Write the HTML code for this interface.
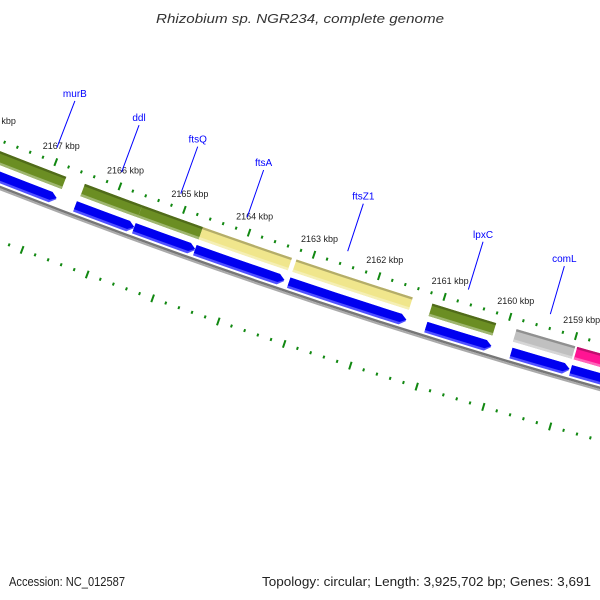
<!DOCTYPE html>
<html><head><meta charset="utf-8"><style>
html,body{margin:0;padding:0;background:#fff;}
svg{display:block;}
text{font-family:"Liberation Sans","DejaVu Sans",sans-serif;}
</style></head><body>
<svg id="map" width="600" height="600" viewBox="0 0 600 600" xmlns="http://www.w3.org/2000/svg">
<rect width="600" height="600" fill="#fff"/>
<text x="300" y="23" text-anchor="middle" font-size="13" font-style="italic" fill="#333" textLength="288" lengthAdjust="spacingAndGlyphs">Rhizobium sp. NGR234, complete genome</text>
<g id="plot"></g>
<text x="9" y="586" font-size="13" fill="#222" textLength="116" lengthAdjust="spacingAndGlyphs">Accession: NC_012587</text>
<text x="591" y="586" font-size="13" fill="#222" text-anchor="end" textLength="329" lengthAdjust="spacingAndGlyphs">Topology: circular; Length: 3,925,702 bp; Genes: 3,691</text>
</svg>
<script>
// ---- data ----
var featStarts = [2168.5, 2166.51, 2165.60, 2164.66, 2163.22, 2161.13, 2159.84, 2158.94];
var featEnds   = [2166.80, 2165.60, 2164.66, 2163.29, 2161.43, 2160.14, 2158.96, 2157.5];
var cogStarts  = [2168.5, 2166.49, 2165.60, 2164.66, 2163.22, 2161.14, 2159.86, 2158.94];
var cogEnds    = [2166.78, 2165.60, 2164.66, 2163.29, 2161.44, 2160.17, 2158.97, 2157.5];
var cogColors  = ["#6b8e23","#6b8e23","#6b8e23","#f0e68c","#f0e68c","#6b8e23","#c0c0c0","#ff1493"];
var geneNames  = ["murB","ddl","ftsQ","ftsA","ftsZ1","lpxC","comL"];
var geneLabelKbp = [2167.06, 2166.05, 2165.13, 2164.10, 2162.55, 2160.70, 2159.45];
var majorTicks = [2158,2159,2160,2161,2162,2163,2164,2165,2166,2167,2168];
var tickLabels = ["2158 kbp","2159 kbp","2160 kbp","2161 kbp","2162 kbp","2163 kbp","2164 kbp","2165 kbp","2166 kbp","2167 kbp","2168 kbp"];

// ---- geometry ----
var NS = "http://www.w3.org/2000/svg";
var CX = 2312, CY = -5720, R0 = 6300;
var PHI0 = 108.49 * Math.PI / 180, KREF = 2163, DPHI = 68.6 / R0;
function ang(k){ return PHI0 + (k - KREF) * DPHI; }
function pt(k, r){ var a = ang(k); return [CX + r*Math.cos(a), CY + r*Math.sin(a)]; }
function f(p){ return p[0].toFixed(2)+","+p[1].toFixed(2); }
var plot = document.getElementById("plot");
function mk(tag, attrs){ var e = document.createElementNS(NS, tag); for (var k in attrs) e.setAttribute(k, attrs[k]); plot.appendChild(e); return e; }
function band(a, b, r1, r2){
  return "M"+f(pt(a,r1))+" A"+r1+","+r1+" 0 0 0 "+f(pt(b,r1))+" L"+f(pt(b,r2))+" A"+r2+","+r2+" 0 0 1 "+f(pt(a,r2))+" Z";
}
function arrow(a, b, r1, r2){
  var h = 6 / R0 / DPHI; var bb = b + h; if (bb > a) bb = a;
  return "M"+f(pt(a,r1))+" A"+r1+","+r1+" 0 0 0 "+f(pt(bb,r1))+" L"+f(pt(b,(r1+r2)/2))+" L"+f(pt(bb,r2))+" A"+r2+","+r2+" 0 0 1 "+f(pt(a,r2))+" Z";
}
function shade(c, d){
  var n = parseInt(c.slice(1),16), r=(n>>16)&255, g=(n>>8)&255, b=n&255;
  function s(v){ return Math.max(0,Math.min(255,Math.round(d>0 ? v+(255-v)*d : v*(1+d)))); }
  return "rgb("+s(r)+","+s(g)+","+s(b)+")";
}

// backbone
var e;
e = mk("path",{d:band(2170,2156,6342,6344.5),fill:"#777"});


e = mk("path",{d:band(2170,2156,6344.5,6346.5),fill:"#aaa"});



// ticks
for (var t = 2156; t <= 2170.001; t += 0.2) {
  var k = Math.round(t*10)/10;
  var isMaj = Math.abs(k - Math.round(k)) < 0.01;
  var len = isMaj ? 4 : 1.5;
  [R0, R0 + 94].forEach(function(rr, idx){
    var p1 = pt(k, rr - len), p2 = pt(k, rr + len);
    var ln = mk("line",{x1:p1[0],y1:p1[1],x2:p2[0],y2:p2[1],stroke:"#118811","stroke-width":2});
    
    
  });
}
majorTicks.forEach(function(k, i){
  var p = pt(k, R0);
  var tx = mk("text",{x:p[0]-13,y:p[1]-13,"font-size":"9",fill:"#222"});
  tx.textContent = tickLabels[i];
  
  
});

// COG-colored gene row
for (var i = 0; i < cogStarts.length; i++) {
  var c = cogColors[i];
  var g1 = mk("path",{d:band(cogStarts[i],cogEnds[i],6310,6323),fill:c});
  
  
  var g2 = mk("path",{d:band(cogStarts[i],cogEnds[i],6310,6312.3),fill:shade(c,-0.25)});
  
  
  var g3 = mk("path",{d:band(cogStarts[i],cogEnds[i],6320.5,6323),fill:shade(c,0.35)});
  
  
}
// blue feature arrows
for (var j = 0; j < featStarts.length; j++) {
  var a1 = mk("path",{d:arrow(featStarts[j],featEnds[j],6329,6340),fill:"#5050ff"});
  
  
  var a2 = mk("path",{d:arrow(featStarts[j],featEnds[j],6329,6337.5),fill:"#0000f0"});
  
  
}
// gene labels
geneNames.forEach(function(nm, i){
  var k = geneLabelKbp[i];
  var p1 = pt(k, R0 - 14), p2 = pt(k, R0 - 64);
  var ln = mk("line",{x1:p1[0],y1:p1[1],x2:p2[0],y2:p2[1],stroke:"#0000ff","stroke-width":1});
  
  
  var tx = mk("text",{x:p2[0],y:p2[1]-4,"font-size":"10","text-anchor":"middle",fill:"#0000ff"});
  tx.textContent = nm;
  
  
});
</script>
</body></html>
